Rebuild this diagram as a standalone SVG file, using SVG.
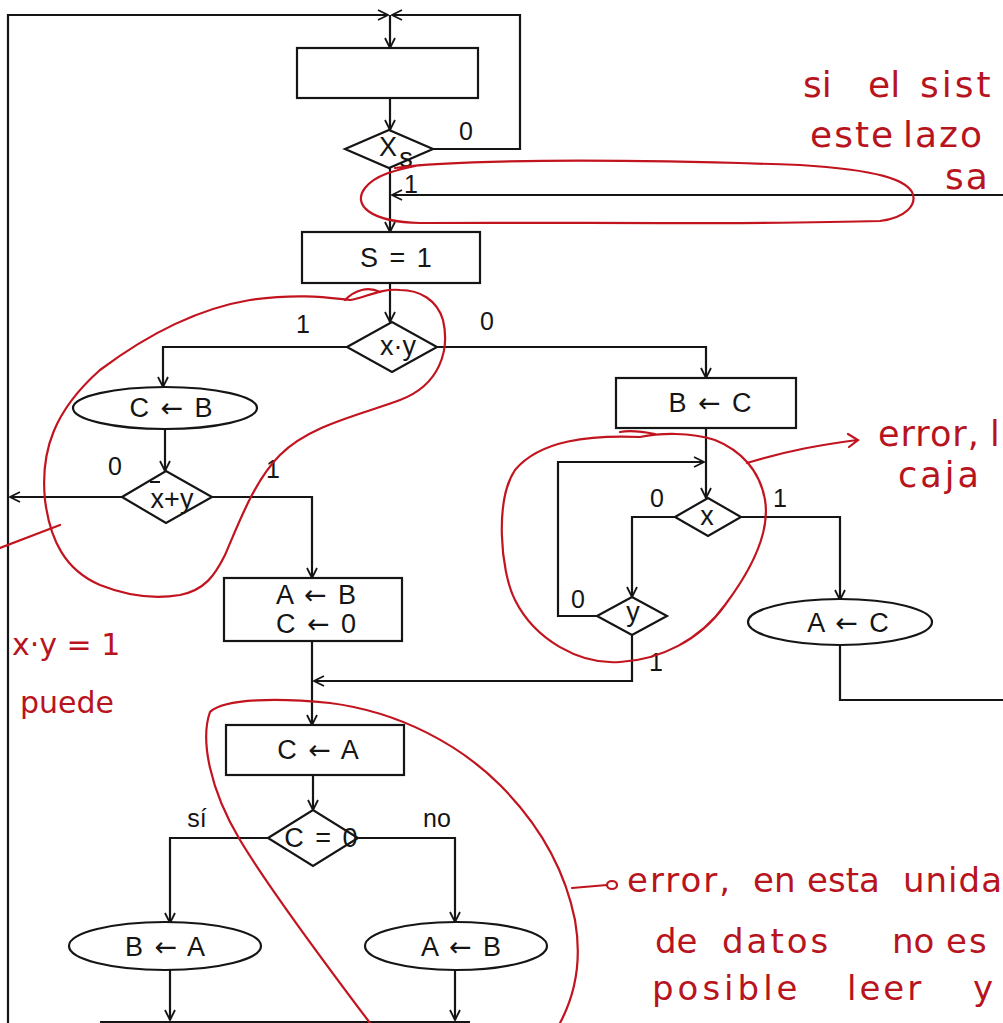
<svg xmlns="http://www.w3.org/2000/svg" width="1003" height="1023" viewBox="0 0 1003 1023">
<style>
.ln{fill:none;stroke:#151515;stroke-width:2.2}
.nd{fill:#fff;stroke:#151515;stroke-width:2.2}
.t{font-family:"Liberation Sans","DejaVu Sans",sans-serif;font-size:27px;fill:#151515;text-anchor:middle;word-spacing:4px}
.ar{font-family:"DejaVu Sans",sans-serif}
.lb{font-family:"Liberation Sans","DejaVu Sans",sans-serif;font-size:25px;fill:#151515;text-anchor:middle}
.r{fill:none;stroke:#c2141f;stroke-width:2.2;stroke-linecap:round}
.h{font-family:"DejaVu Sans","Noto Sans",sans-serif;fill:#b8141e}
</style>
<defs>
<marker id="a" viewBox="0 0 12 12" refX="11" refY="6" markerWidth="12" markerHeight="12" markerUnits="userSpaceOnUse" orient="auto">
<path d="M1,1 L11,6 L1,11" fill="none" stroke="#151515" stroke-width="1.8"/>
</marker>
</defs>
<rect width="1003" height="1023" fill="#fff"/>
<g id="connectors">
<path class="ln" d="M8,1023 L8,15 L388,15" marker-end="url(#a)"/>
<path class="ln" d="M433,149 L520,149 L520,15 L392,15" marker-end="url(#a)"/>
<path class="ln" d="M390,15 L390,48" marker-end="url(#a)"/>
<path class="ln" d="M390,98 L390,130" marker-end="url(#a)"/>
<path class="ln" d="M390,168 L390,232" marker-end="url(#a)"/>
<path class="ln" d="M1003,195 L392,195" marker-end="url(#a)"/>
<path class="ln" d="M390,283 L390,322" marker-end="url(#a)"/>
<path class="ln" d="M347,347 L163,347 L163,387" marker-end="url(#a)"/>
<path class="ln" d="M437,347 L706,347 L706,378" marker-end="url(#a)"/>
<path class="ln" d="M165,429 L165,471" marker-end="url(#a)"/>
<path class="ln" d="M122,497 L10,497" marker-end="url(#a)"/>
<path class="ln" d="M212,497 L312,497 L312,578" marker-end="url(#a)"/>
<path class="ln" d="M312,641 L312,725" marker-end="url(#a)"/>
<path class="ln" d="M632,635 L632,681 L314,681" marker-end="url(#a)"/>
<path class="ln" d="M706,428 L706,498" marker-end="url(#a)"/>
<path class="ln" d="M597,616 L558,616 L558,462 L704,462" marker-end="url(#a)"/>
<path class="ln" d="M675,517 L632,517 L632,597" marker-end="url(#a)"/>
<path class="ln" d="M741,517 L840,517 L840,600" marker-end="url(#a)"/>
<path class="ln" d="M840,645 L840,700 L1003,700"/>
<path class="ln" d="M313,775 L313,810" marker-end="url(#a)"/>
<path class="ln" d="M268,838 L170,838 L170,923" marker-end="url(#a)"/>
<path class="ln" d="M358,838 L455,838 L455,922" marker-end="url(#a)"/>
<path class="ln" d="M170,970 L170,1020" marker-end="url(#a)"/>
<path class="ln" d="M455,970 L455,1020" marker-end="url(#a)"/>
<path class="ln" d="M100,1022 L470,1022" stroke-width="1.4"/>
</g>
<g id="n_top"><rect class="nd" x="297" y="48" width="181" height="50"/></g>
<g id="n_xs"><polygon class="nd" points="345,149 389,130 433,149 389,168"/>
<text class="t" x="388" y="156" font-size="28">X</text><text class="t" x="406" y="167" font-size="19">s</text></g>
<g id="n_s1"><rect class="nd" x="302" y="232" width="178" height="51"/><text class="t" x="396" y="267">S = 1</text></g>
<g id="n_xy"><polygon class="nd" points="347,347 392,322 437,347 392,372"/><text class="t" x="398" y="355">x·y</text></g>
<g id="n_cb"><ellipse class="nd" cx="165" cy="408" rx="92" ry="21"/><text class="t" x="171" y="417">C <tspan class="ar">←</tspan> B</text></g>
<g id="n_xny"><polygon class="nd" points="122,497 166,471 212,497 166,523"/><text class="t" x="172" y="508">x+y</text>
<line x1="150" y1="482" x2="160" y2="482" stroke="#151515" stroke-width="2"/></g>
<g id="n_abc0"><rect class="nd" x="224" y="578" width="178" height="63"/><text class="t" x="316" y="604">A <tspan class="ar">←</tspan> B</text><text class="t" x="316" y="633">C <tspan class="ar">←</tspan> 0</text></g>
<g id="n_bc"><rect class="nd" x="616" y="378" width="180" height="50"/><text class="t" x="710" y="412">B <tspan class="ar">←</tspan> C</text></g>
<g id="n_x"><polygon class="nd" points="675,517 708,498 741,517 708,536"/><text class="t" x="707" y="525">x</text></g>
<g id="n_y"><polygon class="nd" points="597,616 632,597 667,616 632,635"/><text class="t" x="633" y="621">y</text></g>
<g id="n_ac"><ellipse class="nd" cx="840" cy="622" rx="92" ry="23"/><text class="t" x="848" y="632">A <tspan class="ar">←</tspan> C</text></g>
<g id="n_ca"><rect class="nd" x="226" y="725" width="178" height="50"/><text class="t" x="318" y="759">C <tspan class="ar">←</tspan> A</text></g>
<g id="n_c0"><polygon class="nd" points="268,838 313,810 358,838 313,866"/><text class="t" x="321" y="847">C = 0</text></g>
<g id="n_ba"><ellipse class="nd" cx="165" cy="946" rx="96" ry="24"/><text class="t" x="165" y="956">B <tspan class="ar">←</tspan> A</text></g>
<g id="n_ab"><ellipse class="nd" cx="456" cy="946" rx="91" ry="24"/><text class="t" x="461" y="956">A <tspan class="ar">←</tspan> B</text></g>
<g id="labels">
<text class="lb" x="466" y="140">0</text>
<text class="lb" x="411" y="193">1</text>
<text class="lb" x="303" y="333">1</text>
<text class="lb" x="487" y="330">0</text>
<text class="lb" x="115" y="475">0</text>
<text class="lb" x="273" y="478">1</text>
<text class="lb" x="657" y="507">0</text>
<text class="lb" x="780" y="507">1</text>
<text class="lb" x="578" y="608">0</text>
<text class="lb" x="656" y="671">1</text>
<text class="lb" x="197" y="827">sí</text>
<text class="lb" x="437" y="827">no</text>
</g>
<g id="annotations">
<path class="r" d="M395,168 C450,160 600,158 800,165 C880,170 905,180 912,192 C918,205 905,218 880,221 C750,225 560,222 420,223 C370,222 352,205 365,188 C375,175 395,170 420,165"/>
<path class="r" d="M350,300 C330,298 300,293 250,300 C190,310 140,340 100,370 C55,410 40,450 45,500 C50,540 65,570 100,585 C125,595 150,600 180,595 C205,590 215,575 225,555 C240,520 255,480 280,455 C310,425 360,415 400,400 C440,385 450,350 443,320 C437,300 420,290 400,290 C380,288 365,298 350,300 Z"/>
<path class="r" d="M345,300 C355,290 368,286 380,292"/>
<path class="r" d="M60,525 L0,548"/>
<path class="r" d="M640,437 C590,435 540,440 515,470 C495,500 500,570 515,600 C535,640 580,665 620,662 C660,660 700,640 725,605 C755,565 770,530 765,500 C760,470 740,450 715,440 C690,432 660,433 640,437 M620,432 C630,430 645,432 655,434"/>
<path class="r" d="M747,463 C790,450 820,445 857,440 M848,434 L858,440 L849,447"/>
<path class="r" d="M370,1023 C330,970 270,890 240,840 C210,790 200,740 210,712 C225,698 280,698 330,703 C400,712 460,745 500,785 C540,825 565,870 575,920 C582,960 575,995 560,1023"/>
<path class="r" d="M572,888 L607,885"/>
<ellipse class="r" cx="612" cy="885" rx="5" ry="4"/>
<text class="h" y="97" font-size="36"><tspan x="803">si</tspan><tspan x="868">el</tspan><tspan x="920" letter-spacing="3">sist</tspan></text>
<text class="h" y="147" font-size="36" letter-spacing="2"><tspan x="810">este</tspan><tspan x="903">lazo</tspan></text>
<text class="h" x="945" y="189" font-size="36" letter-spacing="2">sa</text>
<text class="h" y="446" font-size="35" letter-spacing="1"><tspan x="878">error,</tspan><tspan x="990">l</tspan></text>
<text class="h" x="898" y="487" font-size="35" letter-spacing="3">caja</text>
<text class="h" x="12" y="655" font-size="30">x·y = 1</text>
<text class="h" x="20" y="713" font-size="30">puede</text>
<text class="h" y="892" font-size="34"><tspan x="627" letter-spacing="2">error,</tspan><tspan x="753">en</tspan><tspan x="807">esta</tspan><tspan x="903" letter-spacing="1">unida</tspan></text>
<text class="h" y="953" font-size="34"><tspan x="655">de</tspan><tspan x="722" letter-spacing="3">datos</tspan><tspan x="892">no</tspan><tspan x="946" letter-spacing="2">es</tspan></text>
<text class="h" y="1000" font-size="34"><tspan x="652" letter-spacing="4">posible</tspan><tspan x="847" letter-spacing="3">leer</tspan><tspan x="973">y</tspan></text>
</g>
</svg>
